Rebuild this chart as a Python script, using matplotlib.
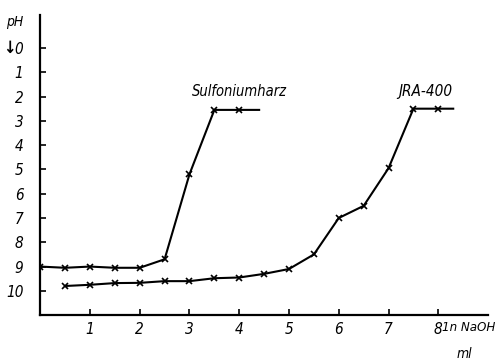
import matplotlib
matplotlib.use('Agg')
from matplotlib import pyplot as plt

# Sulfoniumharz titration curve (ml 1n NaOH, pH)
sulf_ml = [0.0, 0.5, 1.0, 1.5, 2.0, 2.5, 3.0, 3.5, 4.0, 4.4]
sulf_ph = [9.0, 9.05, 9.0, 9.05, 9.05, 8.7, 5.2, 2.55, 2.55, 2.55]

# JRA-400 titration curve
jra_ml = [0.5, 1.0, 1.5, 2.0, 2.5, 3.0, 3.5, 4.0, 4.5, 5.0, 5.5, 6.0, 6.5, 7.0, 7.5, 8.0, 8.3]
jra_ph = [9.8, 9.75, 9.68, 9.67, 9.6, 9.6, 9.48, 9.45, 9.3, 9.1, 8.5, 7.0, 6.5, 4.95, 2.5, 2.5, 2.5]

x_ticks = [1, 2, 3, 4, 5, 6, 7, 8]
y_ticks = [0, 1, 2, 3, 4, 5, 6, 7, 8, 9, 10]

plt.rcParams['font.family'] = ['DejaVu Sans']
plt.rcParams['font.style'] = 'italic'
plt.rcParams['font.stretch'] = 'condensed'

fig = plt.figure(figsize=(4.96, 3.61), dpi=100)
ax = fig.add_axes([0.081, 0.127, 0.903, 0.831])

ax.plot(sulf_ml, sulf_ph, color='black', lw=1.5, marker='x', ms=5, mew=1.2,
        markevery=list(range(len(sulf_ml) - 1)))
ax.plot(jra_ml, jra_ph, color='black', lw=1.5, marker='x', ms=5, mew=1.2,
        markevery=list(range(len(jra_ml) - 1)))

ax.text(3.05, 1.8, 'Sulfoniumharz', fontsize=10.5, ha='left', va='center')
ax.text(7.2, 1.8, 'JRA-400', fontsize=11, ha='left', va='center')

ax.set_xlim(0, 9.0)
ax.set_ylim(11.0, -1.35)
ax.set_xticks(x_ticks)
ax.set_yticks(y_ticks)
ax.set_xticklabels([str(v) for v in x_ticks], fontsize=11)
ax.set_yticklabels([str(v) for v in y_ticks], fontsize=11)
ax.tick_params(direction='in', length=4, width=1.2)
ax.tick_params(axis='y', pad=12)
ax.tick_params(axis='x', pad=5)

for s in ['top', 'right']:
    ax.spines[s].set_visible(False)
for s in ['left', 'bottom']:
    ax.spines[s].set_linewidth(1.6)

fig.text(0.03, 0.94, 'pH', fontsize=10, ha='center', va='center')
fig.text(0.019, 0.868, '\u2193', fontsize=12, ha='center', va='center',
         weight='bold', style='normal')
fig.text(0.892, 0.094, '1n NaOH', fontsize=9.5, ha='left', va='center')
fig.text(0.921, 0.02, 'ml', fontsize=10, ha='left', va='center')

fig.savefig('out.png', dpi=100)
